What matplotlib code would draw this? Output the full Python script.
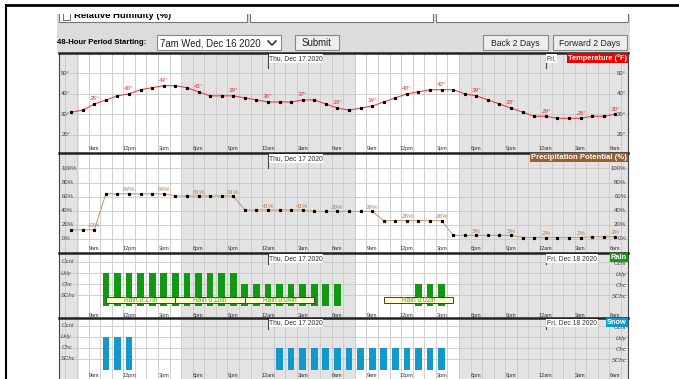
import numpy as np
import matplotlib.pyplot as plt
from matplotlib.patches import Rectangle

plt.rcParams['font.family'] = ['Liberation Sans', 'DejaVu Sans']

# hourly forecast, starting 7am Wed Dec 16 2020
hours = np.arange(48)
tick_hours = np.arange(2, 48, 3)
tick_labels = ['9am', '12pm', '3pm', '6pm', '9pm', '12am', '3am', '6am'] * 2

temperature = [31, 32, 35, 37, 39, 40, 42, 43, 44, 44, 43, 41, 39, 39, 39, 38,
               37, 36, 36, 36, 37, 37, 35, 33, 32, 33, 34, 36, 38, 40, 41, 42,
               42, 42, 40, 39, 37, 35, 33, 31, 29, 29, 28, 28, 28, 29, 29, 30]
precip = [13, 13, 13, 64, 64, 64, 64, 64, 64, 61, 61, 61, 61, 61, 61, 41,
          41, 41, 41, 41, 41, 39, 39, 39, 39, 39, 39, 26, 26, 26, 26, 26,
          26, 5, 5, 5, 5, 5, 5, 2, 2, 2, 2, 2, 2, 3, 3, 3]

# chance levels: 1 SChc, 2 Chc, 3 Lkly, 4 Ocnl
level_names = ['SChc', 'Chc', 'Lkly', 'Ocnl']
rain = [0, 0, 0, 3, 3, 3, 3, 3, 3, 3, 3, 3, 3, 3, 3, 2,
        2, 2, 2, 2, 2, 2, 2, 2, 0, 0, 0, 0, 0, 0, 2, 2,
        2, 0, 0, 0, 0, 0, 0, 0, 0, 0, 0, 0, 0, 0, 0, 0]
snow = [0, 0, 0, 3, 3, 3, 0, 0, 0, 0, 0, 0, 0, 0, 0, 0,
        0, 0, 2, 2, 2, 2, 2, 2, 2, 2, 2, 2, 2, 2, 2, 2,
        2, 0, 0, 0, 0, 0, 0, 0, 0, 0, 0, 0, 0, 0, 0, 0]
rain_start = [3, 9, 15, 27]
rain_amount = ['Rain 0.17in', 'Rain 0.10in', 'Rain 0.04in', 'Rain 0.02in']

nights = [(-1.1, 0.65), (9.55, 24.6), (33.5, 48.2)]
midnights = [17, 41]

W, H = 679, 379
fig = plt.figure(figsize=(W / 100, H / 100), dpi=100)

# page background, form controls
bg = fig.add_axes([0, 0, 1, 1])
bg.set_xlim(0, W)
bg.set_ylim(H, 0)
bg.axis('off')
bg.add_patch(Rectangle((57, 12), 573, 41, fc='#dcdcdc', ec='none'))
for x0, x1 in [(59, 247), (250, 433), (436, 628)]:
    bg.add_patch(Rectangle((x0, 8), x1 - x0, 14, fc='white', ec='#777777', lw=0.8))
bg.add_patch(Rectangle((63, 12), 7, 8, fc='white', ec='#555555', lw=0.6))
bg.text(74, 15.5, 'Relative Humidity (%)', fontsize=6.8, fontweight='bold', va='center')
bg.add_patch(Rectangle((0, 0), W, 14, fc='white', ec='none', zorder=5))
bg.plot([5, W], [5, 5], color='black', lw=2, zorder=6, solid_capstyle='butt')
bg.plot([6, 6], [5, H], color='black', lw=1.5, zorder=6)

bg.text(57, 43, '48-Hour Period Starting:', fontsize=5.6, fontweight='bold', va='center')
bg.add_patch(Rectangle((157, 35), 124, 15, fc='white', ec='#888888', lw=0.8))
bg.text(160, 43, '7am Wed, Dec 16 2020', fontsize=6.9, color='#222222', va='center')
bg.plot([268, 272, 276], [41, 45, 41], color='#222222', lw=1.1)
bg.add_patch(Rectangle((295, 35), 44, 15, fc='#eeeeee', ec='#888888', lw=0.8))
bg.text(317, 43, 'Submit', fontsize=6.9, color='#222222', ha='center', va='center')
bg.add_patch(Rectangle((483, 35), 65, 15, fc='#eeeeee', ec='#888888', lw=0.8))
bg.text(515.5, 43, 'Back 2 Days', fontsize=6.2, color='#222222', ha='center', va='center')
bg.add_patch(Rectangle((553, 35), 74, 15, fc='#eeeeee', ec='#888888', lw=0.8))
bg.text(590, 43, 'Forward 2 Days', fontsize=6.2, color='#222222', ha='center', va='center')


def panel(y0, y1, ylim, hlines, label_y=0.045):
    ax = fig.add_axes([59 / W, 1 - y1 / H, 569 / W, (y1 - y0) / H])
    ax.set_xlim(-1.05, 48.1)
    ax.set_ylim(*ylim)
    for a, b in nights:
        ax.axvspan(a, b, color='#e3e3e3', lw=0, zorder=0)
    ax.vlines(np.arange(-0.5, 48, 1), *ylim, color='#c8c8c8', lw=0.6, zorder=1)
    ax.hlines(hlines, -1.05, 48.1, color='#c8c8c8', lw=0.6, zorder=1)
    ax.set_xticks([])
    ax.set_yticks([])
    for s in ax.spines.values():
        s.set_color('#444444')
        s.set_linewidth(0.8)
    ax.spines['top'].set_linewidth(1.8)
    ax.spines['top'].set_color('#222222')
    xt = ax.get_xaxis_transform()
    for h, lab in zip(tick_hours, tick_labels):
        ax.text(h, label_y, lab, transform=xt, fontsize=4, ha='center', va='center', color='#333333')
    return ax


def header(ax, y, name, color, fri_text, size=5.2):
    xt = ax.get_xaxis_transform()
    ax.plot([midnights[0]] * 2, [y - 0.09, 1], transform=xt, color='#444444', lw=0.8, clip_on=False)
    ax.text(midnights[0] + 0.1, y, 'Thu, Dec 17 2020', transform=xt, fontsize=4.9,
            color='#333333', va='center', ha='left',
            bbox=dict(fc='white', ec='none', pad=0.4))
    if fri_text:
        ax.plot([midnights[1]] * 2, [y - 0.09, 1], transform=xt, color='#444444', lw=0.8, clip_on=False)
        ax.text(midnights[1] + 0.1, y, fri_text, transform=xt, fontsize=4.9,
                color='#333333', va='center', ha='left',
                bbox=dict(fc='white', ec='none', pad=0.4))
    ax.text(0.998, 0.99, name, transform=ax.transAxes, fontsize=size, fontweight='bold',
            color='white', ha='right', va='top',
            bbox=dict(fc=color, ec='none', pad=0.7), zorder=6)


def side_labels(ax, values, labels, style='normal', right_shift=0.0):
    yt = ax.get_yaxis_transform()
    for v, lab in zip(values, labels):
        ax.text(0.004, v, lab, transform=yt, fontsize=4.3, ha='left', va='center',
                color='#444444', style=style)
        ax.text(0.997, v - right_shift, lab, transform=yt, fontsize=4.3, ha='right', va='center',
                color='#444444', style=style)


# temperature
ax1 = panel(53, 153, (11, 60), [20, 30, 40, 50])
ax1.plot(hours, temperature, color='#f04040', lw=0.8, zorder=3)
ax1.plot(hours, temperature, 's', color='black', ms=1.3, zorder=4)
for h in tick_hours:
    ax1.text(h, temperature[h] + 1.3, f'{temperature[h]}°', fontsize=4.5, color='#e03030',
             style='italic', ha='center', va='bottom', zorder=5)
side_labels(ax1, [20, 30, 40, 50], ['20°', '30°', '40°', '50°'])
header(ax1, 0.945, 'Temperature (°F)', '#ee0000', 'Fri,', size=5.3)

# precipitation potential
ax2 = panel(153, 253, (-20, 122), [0, 20, 40, 60, 80, 100])
ax2.plot(hours, precip, color='#c8a07a', lw=0.8, zorder=3)
ax2.plot(hours, precip, 's', color='black', ms=1.3, zorder=4)
for h in tick_hours:
    ax2.text(h, precip[h] + 2, f'{precip[h]}%', fontsize=4.5, color='#b08050',
             style='italic', ha='center', va='bottom', zorder=5)
side_labels(ax2, [0, 20, 40, 60, 80, 100], ['0%', '20%', '40%', '60%', '80%', '100%'])
header(ax2, 0.945, 'Precipitation Potential (%)', '#9a6030', None, size=5.6)

# rain
ax3 = panel(253, 318, (-1.05, 4.8), [1, 2, 3, 4])
ax3.bar(hours, rain, width=0.58, color='#119911', zorder=3)
for h0, txt in zip(rain_start, rain_amount):
    ax3.add_patch(Rectangle((h0, 0.28), 6, 0.58, fc='#ffffcc', ec='#444422', lw=0.7, zorder=4))
    ax3.text(h0 + 3, 0.57, txt, fontsize=4.8, color='#559933', ha='center', va='center', zorder=5)
side_labels(ax3, [1, 2, 3, 4], level_names, style='italic', right_shift=0.12)
header(ax3, 0.915, 'Rain', '#119911', 'Fri, Dec 18 2020', size=5.3)

# snow
ax4 = panel(318, 381, (-1.0, 4.7), [1, 2, 3, 4], label_y=0.085)
ax4.bar(hours, snow, width=0.58, color='#1199cc', zorder=3)
side_labels(ax4, [1, 2, 3, 4], level_names, style='italic', right_shift=0.12)
header(ax4, 0.92, 'Snow', '#1199cc', 'Fri, Dec 18 2020', size=5.3)

fig.savefig('out.png', dpi=100)
